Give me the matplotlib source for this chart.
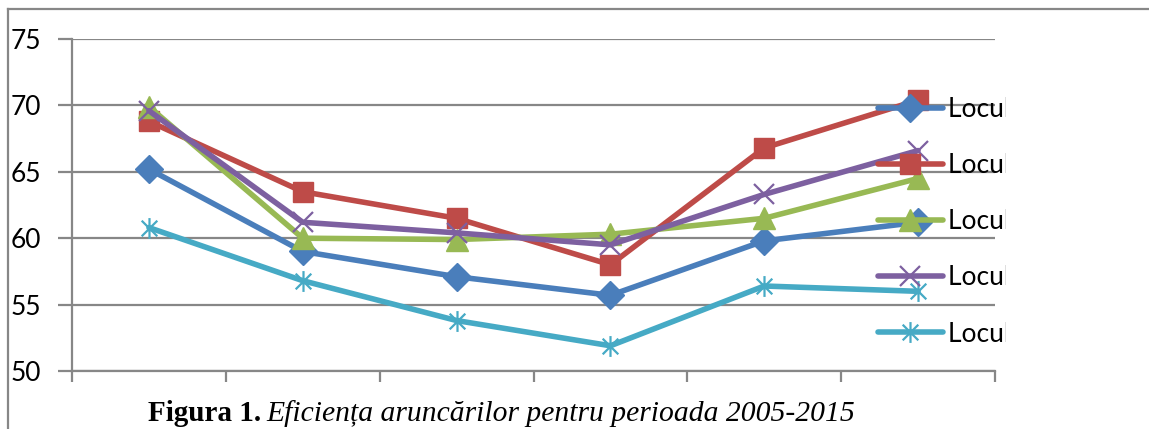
import matplotlib.pyplot as plt
from matplotlib.patches import Rectangle
from matplotlib.lines import Line2D
from matplotlib.path import Path
import numpy as np

# data (6 periods, 5 series)
periods = ['2005', '2007', '2009', '2011', '2013', '2015']
locul_1 = [65.2, 59.0, 57.1, 55.7, 59.8, 61.2]
locul_2 = [68.8, 63.5, 61.5, 58.0, 66.8, 70.4]
locul_3 = [69.9, 60.0, 59.9, 60.3, 61.5, 64.5]
locul_4 = [69.6, 61.2, 60.4, 59.5, 63.3, 66.6]
locul_5 = [60.8, 56.8, 53.8, 51.9, 56.4, 56.0]
labels = ['Locul 1', 'Locul 2', 'Locul 3', 'Locul 4', 'Locul 5']
yticks = [50, 55, 60, 65, 70, 75]

colors = ['#4A7EBB', '#BE4B48', '#98B954', '#7D60A0', '#46AAC5']

# asterisk marker like Excel's: vertical bar + X
star = Path([(0, -1), (0, 1), (-0.75, -0.75), (0.75, 0.75), (-0.75, 0.75), (0.75, -0.75)],
            [Path.MOVETO, Path.LINETO, Path.MOVETO, Path.LINETO, Path.MOVETO, Path.LINETO])

plt.rcParams['font.family'] = ['Lato', 'DejaVu Sans']

W, H = 1149, 429
fig = plt.figure(figsize=(W / 100, H / 100), dpi=100)
ax = fig.add_axes([72 / W, 1 - 371 / H, (995 - 72) / W, (371 - 39) / H])

x = np.arange(len(periods)) + 0.5
series = [locul_1, locul_2, locul_3, locul_4, locul_5]
styles = [dict(marker='D', ms=14),
          dict(marker='s', ms=15),
          dict(marker='^', ms=16),
          dict(marker='x', ms=15, mew=1.6),
          dict(marker=star, ms=15, mew=1.6)]
handles = []
for vals, c, st in zip(series, colors, styles):
    ln, = ax.plot(x, vals, color=c, lw=4, solid_capstyle='round', zorder=3, **st)
    handles.append(ln)

ax.set_xlim(0, 6)
ax.set_ylim(50, 75)
ax.set_xticks(np.arange(0, 7))
ax.set_xticklabels([])
ax.set_yticks(yticks)
ax.set_yticklabels([str(v) for v in yticks], fontsize=19)
ax.yaxis.grid(True, color='#878787', lw=1.6)
ax.set_axisbelow(True)
for s in ['top', 'right']:
    ax.spines[s].set_visible(False)
for s in ['left', 'bottom']:
    ax.spines[s].set_color('#878787')
    ax.spines[s].set_linewidth(1.6)
ax.tick_params(axis='both', direction='out', color='#878787', width=1.6, length=8)
ax.tick_params(axis='y', length=10, pad=12.5)

leg = fig.legend(handles, labels, loc='upper left', bbox_to_anchor=(878 / W, 1 - 97 / H),
                 frameon=False, fontsize=19, borderpad=0, borderaxespad=0,
                 handlelength=2.45, handletextpad=0.2, labelspacing=1.18, numpoints=1)

# the legend is cut off on the right in the original
fig.add_artist(Rectangle((1006 / W, 1 - 360 / H), (W - 1006) / W, 290 / H,
                         transform=fig.transFigure, facecolor='white', edgecolor='none', zorder=10))

# outer frame (left and top)
fig.add_artist(Line2D([8 / W, 8 / W], [0, 1 - 9 / H], transform=fig.transFigure, color='#878787', lw=1.6))
fig.add_artist(Line2D([8 / W, 1], [1 - 9 / H, 1 - 9 / H], transform=fig.transFigure, color='#878787', lw=1.6))

# caption
fig.text(148 / W, 1 - 421 / H, 'Figura 1.', family='Liberation Serif', weight='bold', fontsize=21)
fig.text(266 / W, 1 - 421 / H, 'Eficiența aruncărilor pentru perioada 2005-2015',
         family='Liberation Serif', style='italic', fontsize=21.3)

fig.savefig('out.png', dpi=100)
